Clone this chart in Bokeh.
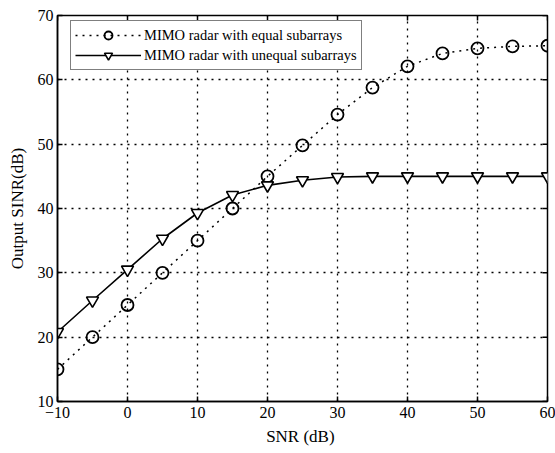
import math
from bokeh.plotting import figure
from bokeh.models import Legend, LegendItem, FixedTicker, Range1d
from bokeh.embed import file_html
from bokeh.resources import INLINE

snr = [-10, -5, 0, 5, 10, 15, 20, 25, 30, 35, 40, 45, 50, 55, 60]
equal_sinr = [15.0, 20.0, 25.0, 30.0, 35.0, 40.0, 45.0, 49.8, 54.6, 58.8, 62.1, 64.1, 64.9, 65.2, 65.3]
unequal_sinr = [20.8, 25.7, 30.5, 35.3, 39.3, 42.1, 43.6, 44.4, 44.9, 45.0, 45.0, 45.0, 45.0, 45.0, 45.0]
x_ticks = [-10, 0, 10, 20, 30, 40, 50, 60]
y_ticks = [10, 20, 30, 40, 50, 60, 70]
label_equal = "MIMO radar with equal subarrays"
label_unequal = "MIMO radar with unequal subarrays"

FONT = "Liberation Serif"

p = figure(width=555, height=453, output_backend="svg", toolbar_location=None,
           x_range=Range1d(x_ticks[0], x_ticks[-1]), y_range=Range1d(y_ticks[0], y_ticks[-1]),
           min_border_left=57, min_border_right=8, min_border_top=15, min_border_bottom=52)
p.background_fill_color = "white"
p.border_fill_color = "white"
p.outline_line_color = "black"
p.outline_line_width = 1.5

def style_axis(ax):
    ax.axis_line_color = "black"
    ax.axis_line_width = 1.5
    ax.major_tick_in = 5
    ax.major_tick_out = 0
    ax.minor_tick_line_color = None
    ax.major_tick_line_color = "black"
    ax.major_tick_line_width = 1.5
    ax.major_label_text_font = FONT
    ax.major_label_text_font_size = "16px"
    ax.major_label_text_color = "black"
    ax.axis_label_text_font = FONT
    ax.axis_label_text_font_size = "17px"
    ax.axis_label_text_font_style = "normal"
    ax.axis_label_text_color = "black"

xa = p.xaxis[0]
xa.ticker = FixedTicker(ticks=x_ticks)
xa.major_label_overrides = {-10: "\u221210"}
xa.axis_label = "SNR  (dB)"
xa.major_label_standoff = 5
xa.axis_label_standoff = 6
style_axis(xa)

ya = p.yaxis[0]
ya.ticker = FixedTicker(ticks=y_ticks)
ya.axis_label = "Output SINR(dB)"
ya.major_label_standoff = 4
ya.axis_label_standoff = 8
style_axis(ya)

# mirrored inward ticks on top and right edges
p.ray(x=x_ticks, y=[y_ticks[-1]] * len(x_ticks), length=5, length_units="screen",
      angle=-math.pi / 2, line_color="black", line_width=1.5)
p.ray(x=[x_ticks[-1]] * len(y_ticks), y=y_ticks, length=5, length_units="screen",
      angle=math.pi, line_color="black", line_width=1.5)

for g in (p.xgrid[0], p.ygrid[0]):
    g.grid_line_color = "black"
    g.grid_line_dash = "2 5"
    g.grid_line_width = 1.3

p.xgrid[0].ticker = FixedTicker(ticks=x_ticks)
p.ygrid[0].ticker = FixedTicker(ticks=y_ticks)

l1 = p.line(snr, equal_sinr, line_color="black", line_width=1.5, line_dash="2 5")
s1 = p.scatter(snr, equal_sinr, marker="circle", size=12, fill_color=None,
               line_color="black", line_width=1.8)
l2 = p.line(snr, unequal_sinr, line_color="black", line_width=1.6)
s2 = p.scatter(snr, unequal_sinr, marker="inverted_triangle", size=12, fill_color="white",
               line_color="black", line_width=1.6)

legend = Legend(items=[LegendItem(label=label_equal, renderers=[l1, s1]),
                       LegendItem(label=label_unequal, renderers=[l2, s2])],
                location=(13, 331))
legend.margin = 0
legend.padding = 4
legend.spacing = 0
legend.glyph_width = 66
legend.glyph_height = 20
legend.label_height = 20
legend.label_standoff = 3
legend.label_text_font = FONT
legend.label_text_font_size = "14.5px"
legend.label_text_color = "black"
legend.border_line_color = "black"
legend.border_line_width = 1.5
legend.background_fill_color = "white"
legend.background_fill_alpha = 1.0
p.add_layout(legend, "center")

open("out.html", "w").write(file_html(p, INLINE))
